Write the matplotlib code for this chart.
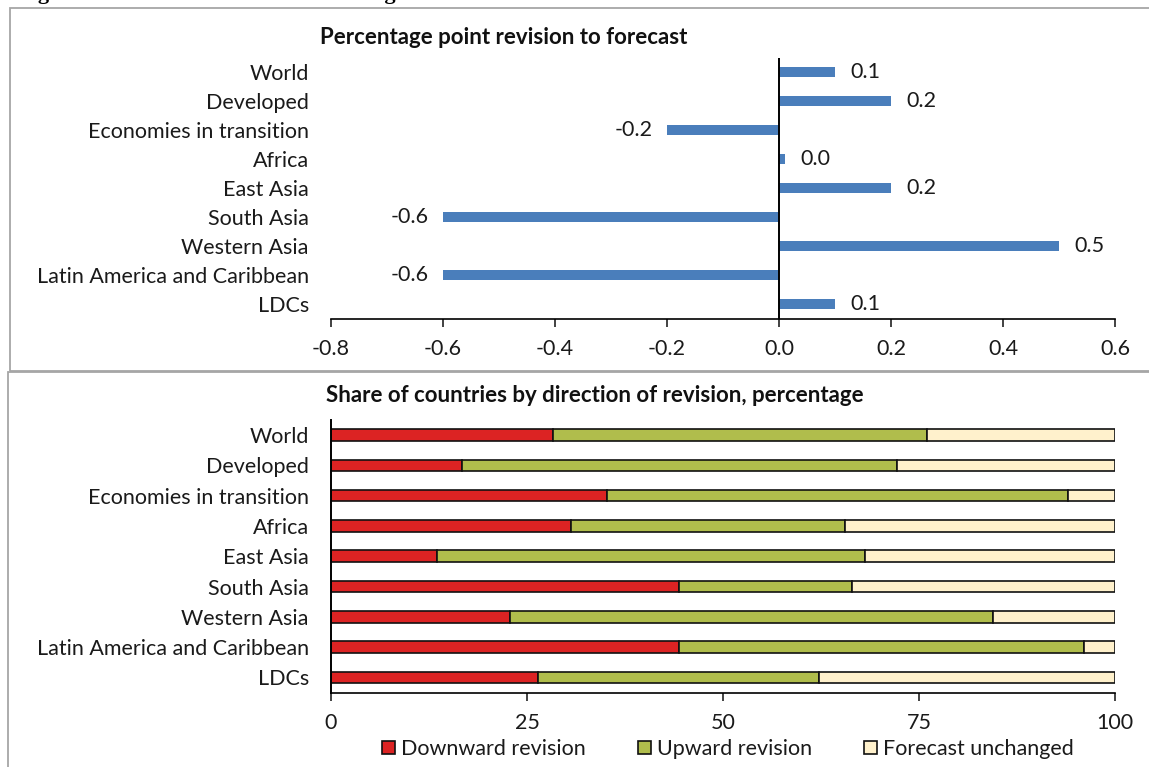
import matplotlib
matplotlib.use("Agg")
import matplotlib.pyplot as plt
from matplotlib.patches import Rectangle, Patch
import numpy as np

plt.rcParams['font.family'] = ['Lato', 'DejaVu Sans']

regions = ["World", "Developed", "Economies in transition", "Africa", "East Asia",
           "South Asia", "Western Asia", "Latin America and Caribbean", "LDCs"]

# Percentage point revision to the growth forecast
revision = [0.1, 0.2, -0.2, 0.01, 0.2, -0.6, 0.5, -0.6, 0.1]

# Share of countries by direction of revision (%)
downward = [28.3, 16.7, 35.2, 30.6, 13.5, 44.4, 22.8, 44.4, 26.4]
upward_cum = [76.0, 72.2, 94.0, 65.5, 68.1, 66.5, 84.4, 96.1, 62.2]
upward = [u - d for u, d in zip(upward_cum, downward)]
unchanged = [100 - u for u in upward_cum]

top_ticks = [-0.8, -0.6, -0.4, -0.2, 0.0, 0.2, 0.4, 0.6]
bottom_ticks = [0, 25, 50, 75, 100]

W, H = 1149, 767
fig = plt.figure(figsize=(W / 100, H / 100), dpi=100)

def fx(px):
    return px / W

def fy(py):
    return 1 - py / H

frame_col = "#a6a6a6"
# panel frames
fig.add_artist(Rectangle((fx(10), fy(371)), fx(1200), fy(8) - fy(371),
                         transform=fig.transFigure, fill=False, ec=frame_col, lw=1.3))
fig.add_artist(Rectangle((fx(8), fy(800)), fx(1200), fy(372) - fy(800),
                         transform=fig.transFigure, fill=False, ec=frame_col, lw=1.3))

# figure heading (runs off the top edge)
fig.text(fx(18), fy(-1), "Figure I.4  Forecast revisions for GDP growth in 2016",
         family="Liberation Serif", weight="bold", fontsize=16, va="baseline", ha="left")

label_size = 15.5
label_col = "#1a1a1a"

# ---- Top panel: revisions ----
ax1 = fig.add_axes([fx(331), fy(318.5), fx(1115 - 331), fy(57.5) - fy(318.5)])
y = np.arange(len(regions))
ax1.barh(y, revision, height=0.36, color="#4a7ebb", zorder=2)
ax1.set_xlim(-0.8, 0.6)
ax1.set_ylim(len(regions) - 0.5, -0.5)
ax1.set_xticks(top_ticks)
ax1.set_xticklabels([f"{t:.1f}" for t in top_ticks], fontsize=label_size, color=label_col)
ax1.set_yticks(y)
ax1.set_yticklabels(regions, fontsize=label_size, color=label_col)
ax1.tick_params(axis="y", length=0, pad=16)
ax1.tick_params(axis="x", direction="out", length=6, width=1.2, pad=9, color="#222222")
for s in ["top", "right", "left"]:
    ax1.spines[s].set_visible(False)
ax1.spines["bottom"].set_linewidth(1.2)
ax1.axvline(0, color="black", lw=1.4, zorder=3)
for yi, v in zip(y, revision):
    if v >= 0:
        ax1.annotate(f"{v:.1f}", (v, yi), xytext=(11, 0), textcoords="offset points",
                     ha="left", va="center", fontsize=label_size, color=label_col)
    else:
        ax1.annotate(f"{v:.1f}", (v, yi), xytext=(-10, 0), textcoords="offset points",
                     ha="right", va="center", fontsize=label_size, color=label_col)
fig.text(fx(504), fy(37), "Percentage point revision to forecast", ha="center", va="center",
         fontsize=16, weight="bold", color="#111111")

# ---- Bottom panel: share of countries ----
ax2 = fig.add_axes([fx(331), fy(692.5), fx(1115 - 331), fy(420) - fy(692.5)])
ec = "#111111"
h = 0.38
ax2.barh(y, downward, height=h, color="#dc2323", edgecolor=ec, lw=1.2, label="Downward revision", zorder=2)
ax2.barh(y, upward, left=downward, height=h, color="#b0bd4c", edgecolor=ec, lw=1.2,
         label="Upward revision", zorder=2)
ax2.barh(y, unchanged, left=upward_cum, height=h, color="#fff1cc", edgecolor=ec, lw=1.2,
         label="Forecast unchanged", zorder=2)
ax2.set_xlim(0, 100)
ax2.set_ylim(len(regions) - 0.5, -0.5)
ax2.set_xticks(bottom_ticks)
ax2.set_xticklabels([str(t) for t in bottom_ticks], fontsize=label_size, color=label_col)
ax2.set_yticks(y)
ax2.set_yticklabels(regions, fontsize=label_size, color=label_col)
ax2.tick_params(axis="y", length=0, pad=16)
ax2.tick_params(axis="x", direction="out", length=6, width=1.2, pad=9, color="#222222")
for s in ["top", "right"]:
    ax2.spines[s].set_visible(False)
ax2.spines["bottom"].set_linewidth(1.2)
ax2.spines["left"].set_linewidth(1.4)
fig.text(fx(595), fy(396), "Share of countries by direction of revision, percentage",
         ha="center", va="center", fontsize=16, weight="bold", color="#111111")

handles = [Patch(facecolor="#dc2323", edgecolor=ec, lw=1.2),
           Patch(facecolor="#b0bd4c", edgecolor=ec, lw=1.2),
           Patch(facecolor="#fff1cc", edgecolor=ec, lw=1.2)]
fig.legend(handles, ["Downward revision", "Upward revision", "Forecast unchanged"],
           loc="center", bbox_to_anchor=(fx(728), fy(749)), ncol=3, frameon=False,
           fontsize=label_size, handlelength=0.6, handleheight=0.6, handletextpad=0.3,
           columnspacing=2.4, labelcolor=label_col)

fig.savefig("out.png", dpi=100)
